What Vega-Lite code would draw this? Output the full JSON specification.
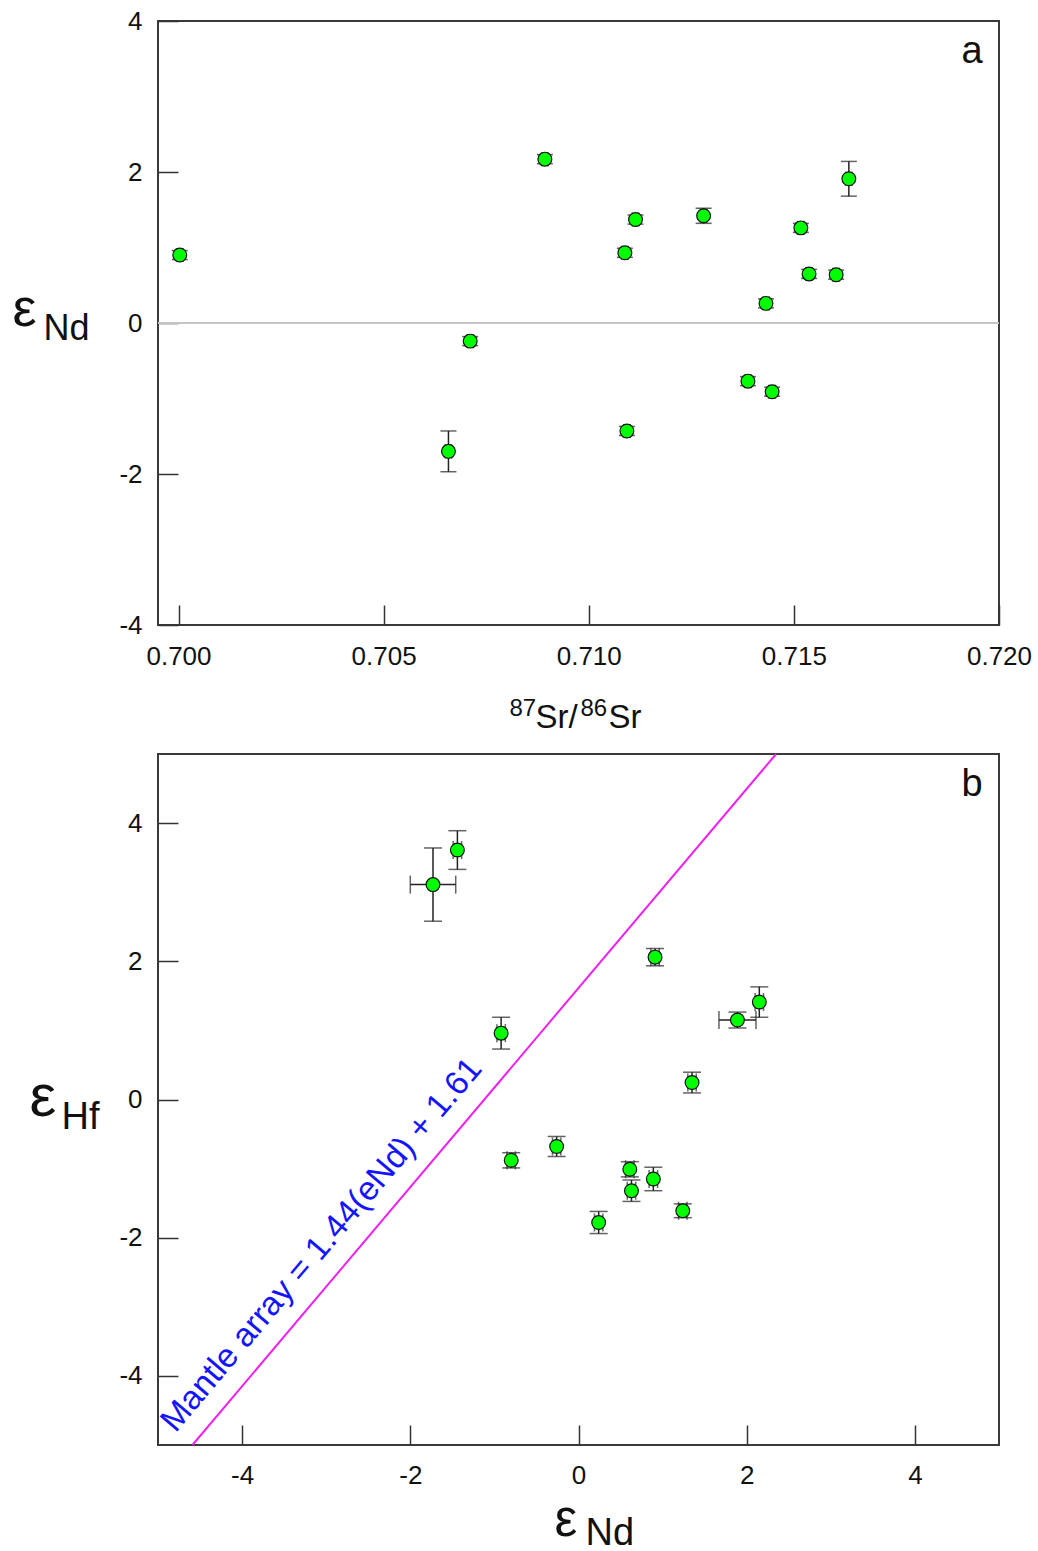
{
  "$schema": "https://vega.github.io/schema/vega-lite/v6.json",
  "background": "white",
  "padding": {"left": 11, "top": 7, "right": 5, "bottom": 5},
  "spacing": 129,
  "bounds": "flush",
  "datasets": {
    "srnd": [
      {"sr": 0.70003, "end": 0.90, "esr": 0.00008, "eend": 0.06},
      {"sr": 0.70893, "end": 2.17, "esr": 0.00008, "eend": 0.06},
      {"sr": 0.71114, "end": 1.37, "esr": 0.00008, "eend": 0.06},
      {"sr": 0.71088, "end": 0.93, "esr": 0.00008, "eend": 0.06},
      {"sr": 0.71280, "end": 1.42, "esr": 0.00008, "eend": 0.10},
      {"sr": 0.71634, "end": 1.91, "esr": 0.00008, "eend": 0.23},
      {"sr": 0.71517, "end": 1.26, "esr": 0.00008, "eend": 0.06},
      {"sr": 0.71537, "end": 0.65, "esr": 0.00008, "eend": 0.06},
      {"sr": 0.71603, "end": 0.64, "esr": 0.00008, "eend": 0.06},
      {"sr": 0.71432, "end": 0.26, "esr": 0.00008, "eend": 0.06},
      {"sr": 0.71388, "end": -0.77, "esr": 0.00008, "eend": 0.06},
      {"sr": 0.71447, "end": -0.91, "esr": 0.00008, "eend": 0.06},
      {"sr": 0.71093, "end": -1.43, "esr": 0.00008, "eend": 0.06},
      {"sr": 0.70711, "end": -0.24, "esr": 0.00008, "eend": 0.06},
      {"sr": 0.70658, "end": -1.70, "esr": 0.00008, "eend": 0.27}
    ],
    "ndhf": [
      {"end": -1.73, "ehf": 3.11, "eend": 0.27, "eehf": 0.53},
      {"end": -1.44, "ehf": 3.61, "eend": 0.05, "eehf": 0.28},
      {"end": -0.92, "ehf": 0.96, "eend": 0.05, "eehf": 0.23},
      {"end": 0.91, "ehf": 2.06, "eend": 0.05, "eehf": 0.125},
      {"end": 2.15, "ehf": 1.41, "eend": 0.05, "eehf": 0.22},
      {"end": 1.89, "ehf": 1.15, "eend": 0.22, "eehf": 0.115},
      {"end": 1.35, "ehf": 0.245, "eend": 0.05, "eehf": 0.15},
      {"end": -0.80, "ehf": -0.88, "eend": 0.05, "eehf": 0.11},
      {"end": -0.26, "ehf": -0.68, "eend": 0.05, "eehf": 0.145},
      {"end": 0.61, "ehf": -1.01, "eend": 0.05, "eehf": 0.11},
      {"end": 0.63, "ehf": -1.32, "eend": 0.05, "eehf": 0.155},
      {"end": 0.89, "ehf": -1.15, "eend": 0.05, "eehf": 0.17},
      {"end": 1.24, "ehf": -1.61, "eend": 0.05, "eehf": 0.10},
      {"end": 0.24, "ehf": -1.78, "eend": 0.05, "eehf": 0.16}
    ],
    "mantle": [
      {"x1": -4.59, "y1": -5, "x2": 2.35, "y2": 5}
    ]
  },
  "vconcat": [
    {
      "width": 841,
      "height": 604,
      "data": {"name": "srnd"},
      "resolve": {"axis": {"x": "independent", "y": "independent"}},
      "layer": [
        {
          "mark": {"type": "rule", "color": "#c4c4c4", "strokeWidth": 1.5},
          "encoding": {
            "y": {"datum": 0, "type": "quantitative", "scale": {"domain": [-4, 4], "nice": false, "zero": false}, "axis": null}
          }
        },
        {
          "mark": {"type": "errorbar", "ticks": {"size": 16, "thickness": 1.5}, "rule": {"strokeWidth": 1.5}, "color": "#222"},
          "encoding": {
            "x": {"field": "sr", "type": "quantitative", "scale": {"domain": [0.6995, 0.7200], "nice": false, "zero": false},
                  "axis": {"orient": "bottom", "ticks": false, "labels": false, "domain": false, "title": "87", "titleX": 351, "titleY": 90, "titleAlign": "left", "titleBaseline": "alphabetic", "titleFontSize": 24, "titleAngle": 0}},
            "y": {"field": "end", "type": "quantitative", "scale": {"domain": [-4, 4], "nice": false, "zero": false},
                  "axis": {"orient": "left", "ticks": false, "labels": false, "domain": false, "title": "Nd", "titleX": -115, "titleY": 318, "titleAlign": "left", "titleBaseline": "alphabetic", "titleFontSize": 36, "titleAngle": 0}},
            "yError": {"field": "eend"}
          }
        },
        {
          "mark": {"type": "errorbar", "ticks": {"size": 14, "thickness": 1.5}, "rule": {"strokeWidth": 1.5}, "color": "#222"},
          "encoding": {
            "x": {"field": "sr", "type": "quantitative", "scale": {"domain": [0.6995, 0.7200], "nice": false, "zero": false},
                  "axis": {"orient": "bottom", "ticks": false, "labels": false, "domain": false, "title": "86", "titleX": 422, "titleY": 90, "titleAlign": "left", "titleBaseline": "alphabetic", "titleFontSize": 24, "titleAngle": 0}},
            "y": {"field": "end", "type": "quantitative", "scale": {"domain": [-4, 4], "nice": false, "zero": false},
                  "axis": {"orient": "left", "ticks": false, "labels": false, "domain": false, "title": "a", "titleX": 803, "titleY": 41, "titleAlign": "left", "titleBaseline": "alphabetic", "titleFontSize": 38, "titleAngle": 0}},
            "xError": {"field": "esr"}
          }
        },
        {
          "mark": {"type": "point", "shape": "circle", "filled": true, "fill": "#00ff00", "stroke": "#111", "strokeWidth": 1.2, "opacity": 1, "size": 190},
          "encoding": {
            "x": {"field": "sr", "type": "quantitative", "scale": {"domain": [0.6995, 0.7200], "nice": false, "zero": false},
                  "axis": {"orient": "bottom", "values": [0.700, 0.705, 0.710, 0.715, 0.720], "format": ".3f", "title": "Sr/", "titleX": 377, "titleY": 102, "titleAlign": "left", "titleBaseline": "alphabetic", "titleFontSize": 33, "titleAngle": 0}},
            "y": {"field": "end", "type": "quantitative", "scale": {"domain": [-4, 4], "nice": false, "zero": false},
                  "axis": {"orient": "left", "values": [-4, -2, 0, 2, 4], "labelExpr": "replace(datum.label, '−', '-')", "title": "ε", "titleX": -146, "titleY": 304, "titleAlign": "left", "titleBaseline": "alphabetic", "titleFontSize": 54, "titleAngle": 0}}
          }
        },
        {
          "mark": {"type": "point", "opacity": 0},
          "encoding": {
            "x": {"field": "sr", "type": "quantitative", "scale": {"domain": [0.6995, 0.7200], "nice": false, "zero": false},
                  "axis": {"orient": "bottom", "ticks": false, "labels": false, "domain": false, "title": "Sr", "titleX": 450, "titleY": 102, "titleAlign": "left", "titleBaseline": "alphabetic", "titleFontSize": 33, "titleAngle": 0}},
            "y": {"field": "end", "type": "quantitative", "scale": {"domain": [-4, 4], "nice": false, "zero": false}, "axis": null}
          }
        }
      ]
    },
    {
      "width": 841,
      "height": 691,
      "resolve": {"axis": {"x": "independent", "y": "independent"}},
      "layer": [
        {
          "data": {"name": "mantle"},
          "mark": {"type": "rule", "color": "#ee22ee", "strokeWidth": 2},
          "encoding": {
            "x": {"field": "x1", "type": "quantitative", "scale": {"domain": [-5, 5], "nice": false, "zero": false},
                  "axis": {"orient": "bottom", "ticks": false, "labels": false, "domain": false, "title": "Nd", "titleX": 427, "titleY": 99, "titleAlign": "left", "titleBaseline": "alphabetic", "titleFontSize": 38, "titleAngle": 0}},
            "x2": {"field": "x2"},
            "y": {"field": "y1", "type": "quantitative", "scale": {"domain": [-5, 5], "nice": false, "zero": false},
                  "axis": {"orient": "left", "ticks": false, "labels": false, "domain": false, "title": "Mantle array = 1.44(eNd) + 1.61", "titleX": 17, "titleY": 679, "titleAlign": "left", "titleBaseline": "alphabetic", "titleFontSize": 33.5, "titleAngle": -49.8, "titleColor": "#1414ff"}},
            "y2": {"field": "y2"}
          }
        },
        {
          "data": {"name": "ndhf"},
          "mark": {"type": "errorbar", "ticks": {"size": 18, "thickness": 1.5}, "rule": {"strokeWidth": 1.5}, "color": "#222"},
          "encoding": {
            "x": {"field": "end", "type": "quantitative", "scale": {"domain": [-5, 5], "nice": false, "zero": false}, "axis": null},
            "y": {"field": "ehf", "type": "quantitative", "scale": {"domain": [-5, 5], "nice": false, "zero": false},
                  "axis": {"orient": "left", "ticks": false, "labels": false, "domain": false, "title": "Hf", "titleX": -97, "titleY": 374, "titleAlign": "left", "titleBaseline": "alphabetic", "titleFontSize": 38, "titleAngle": 0}},
            "yError": {"field": "eehf"}
          }
        },
        {
          "data": {"name": "ndhf"},
          "mark": {"type": "errorbar", "ticks": {"size": 18, "thickness": 1.5}, "rule": {"strokeWidth": 1.5}, "color": "#222"},
          "encoding": {
            "x": {"field": "end", "type": "quantitative", "scale": {"domain": [-5, 5], "nice": false, "zero": false}, "axis": null},
            "y": {"field": "ehf", "type": "quantitative", "scale": {"domain": [-5, 5], "nice": false, "zero": false},
                  "axis": {"orient": "left", "ticks": false, "labels": false, "domain": false, "title": "b", "titleX": 803, "titleY": 41, "titleAlign": "left", "titleBaseline": "alphabetic", "titleFontSize": 38, "titleAngle": 0}},
            "xError": {"field": "eend"}
          }
        },
        {
          "data": {"name": "ndhf"},
          "mark": {"type": "point", "shape": "circle", "filled": true, "fill": "#00ff00", "stroke": "#111", "strokeWidth": 1.2, "opacity": 1, "size": 190},
          "encoding": {
            "x": {"field": "end", "type": "quantitative", "scale": {"domain": [-5, 5], "nice": false, "zero": false},
                  "axis": {"orient": "bottom", "values": [-4, -2, 0, 2, 4], "labelExpr": "replace(datum.label, '−', '-')", "labelPadding": 37, "title": "ε", "titleX": 396, "titleY": 90, "titleAlign": "left", "titleBaseline": "alphabetic", "titleFontSize": 51, "titleAngle": 0}},
            "y": {"field": "ehf", "type": "quantitative", "scale": {"domain": [-5, 5], "nice": false, "zero": false},
                  "axis": {"orient": "left", "values": [-4, -2, 0, 2, 4], "labelExpr": "replace(datum.label, '−', '-')", "title": "ε", "titleX": -129, "titleY": 361, "titleAlign": "left", "titleBaseline": "alphabetic", "titleFontSize": 60, "titleAngle": 0}}
          }
        }
      ]
    }
  ],
  "config": {
    "view": {"stroke": "#3a3a3a", "strokeWidth": 2},
    "axis": {
      "domain": false,
      "grid": false,
      "tickColor": "#333",
      "tickWidth": 1.5,
      "tickSize": -20,
      "labelPadding": 38,
      "labelFont": "Liberation Sans",
      "labelFontSize": 26,
      "labelColor": "#111",
      "labelFlush": false,
      "labelOverlap": false,
      "titleFont": "Liberation Sans",
      "titleColor": "#111",
      "titleFontWeight": "normal"
    },
    "axisLeft": {"labelPadding": 36}
  }
}
